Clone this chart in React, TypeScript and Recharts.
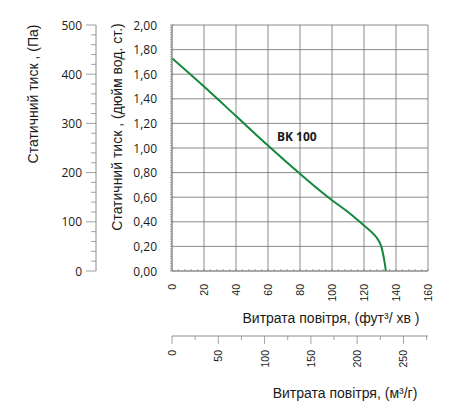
import React from "react";
import {
  CartesianGrid,
  Line,
  LineChart,
  ReferenceDot,
  XAxis,
  YAxis,
} from "recharts";

// fan curve (flow in cfm, pressure in in. w.g.)
const flowCfm = [0, 20, 40, 60, 80, 100, 110, 120, 126, 129, 131, 132.2, 133, 133.7];
const pressureIn = [1.73, 1.5, 1.26, 1.02, 0.79, 0.575, 0.48, 0.37, 0.3, 0.25, 0.19, 0.12, 0.06, 0];

const curveName = "BK 100";
const curveLabelAt = { x: 78, y: 1.09 };

const cfmMajor = [0, 20, 40, 60, 80, 100, 120, 140, 160];
const inchMajor = [0, 0.2, 0.4, 0.6, 0.8, 1, 1.2, 1.4, 1.6, 1.8, 2];
const paMajor = [0, 100, 200, 300, 400, 500];
const m3hMajor = [0, 50, 100, 150, 200, 250];

// minor tick marks
const cfmTicks = Array.from({ length: 41 }, (_, i) => i * 4);
const inchTicks = Array.from({ length: 101 }, (_, i) => Math.round(i * 2) / 100);
const paTicks = Array.from({ length: 26 }, (_, i) => i * 20);
const m3hTicks = Array.from({ length: 12 }, (_, i) => i * 25);

const data = flowCfm.map((x, i) => ({ x, p: pressureIn[i] }));

const AXIS = "#8c8c8c";
const GRID = "#6e6e6e";
const TXT = "#1a1a1a";
const SANS = "'Liberation Sans', Arial, sans-serif";
const TICKFONT = "'Open Sans', sans-serif";

const isMajor = (v: number, list: number[]) =>
  list.some((m) => Math.abs(m - v) < 1e-6);

function InchTick(props: any) {
  const { x, y, payload } = props;
  const major = isMajor(payload.value, inchMajor);
  return (
    <g>
      <line x1={x - 2} x2={major ? x + 2 : x} y1={y} y2={y} stroke={AXIS} strokeWidth={0.8} />
      {major ? (
        <text x={x - 15} y={y} textAnchor="end" dominantBaseline="central" fontSize={12} fontFamily={TICKFONT} fill={TXT}>
          {payload.value.toFixed(2).replace(".", ",")}
        </text>
      ) : null}
    </g>
  );
}

function PaTick(props: any) {
  const { x, y, payload } = props;
  const major = isMajor(payload.value, paMajor);
  return (
    <g>
      <line x1={x - (major ? 10 : 5)} x2={x} y1={y} y2={y} stroke={AXIS} strokeWidth={0.8} />
      {major ? (
        <text x={x - 14} y={y} textAnchor="end" dominantBaseline="central" fontSize={12} fontFamily={TICKFONT} fill={TXT}>
          {payload.value}
        </text>
      ) : null}
    </g>
  );
}

function CfmTick(props: any) {
  const { x, y, payload } = props;
  const major = isMajor(payload.value, cfmMajor);
  return (
    <g>
      <line x1={x} x2={x} y1={y - 2} y2={y} stroke={AXIS} strokeWidth={0.8} />
      {major ? (
        <text
          x={x}
          y={y + 13}
          transform={`rotate(-90, ${x}, ${y + 13})`}
          textAnchor="end"
          dominantBaseline="central"
          fontSize={10.5}
          fontFamily={SANS}
          fill={TXT}
        >
          {payload.value}
        </text>
      ) : null}
    </g>
  );
}

function M3hTick(props: any) {
  const { x, y, payload } = props;
  const major = isMajor(payload.value, m3hMajor);
  return (
    <g>
      <line x1={x} x2={x} y1={y} y2={y + (major ? 8 : 4)} stroke={AXIS} strokeWidth={0.8} />
      {major ? (
        <text
          x={x}
          y={y + 14}
          transform={`rotate(-90, ${x}, ${y + 14})`}
          textAnchor="end"
          dominantBaseline="central"
          fontSize={10.5}
          fontFamily={SANS}
          fill={TXT}
        >
          {payload.value}
        </text>
      ) : null}
    </g>
  );
}

const title = (text: string, dx: number, dy: number, rotate: boolean) => (p: any) => {
  const vb = p.viewBox || {};
  const tx = (vb.x || 0) + dx;
  const ty = (vb.y || 0) + dy;
  return (
    <text
      x={tx}
      y={ty}
      textAnchor="middle"
      dominantBaseline={rotate ? "central" : "auto"}
      transform={rotate ? `rotate(-90, ${tx}, ${ty})` : undefined}
      fontSize={14}
      fontFamily={SANS}
      fill={TXT}
    >
      {text}
    </text>
  );
};

export default function App() {
  return (
    <div style={{ position: "absolute", left: 0, top: 0, width: 450, height: 415, background: "#fff" }}>
      <LineChart
        width={450}
        height={415}
        data={data}
        margin={{ top: 25, right: 22, left: 0, bottom: 0 }}
      >
        <CartesianGrid
          xAxisId="cfm"
          yAxisId="in"
          stroke={GRID}
          strokeWidth={0.8}
          verticalValues={cfmMajor}
          horizontalValues={inchMajor}
        />
        <YAxis
          yAxisId="in"
          dataKey="p"
          type="number"
          domain={[0, 2]}
          allowDataOverflow
          ticks={inchTicks}
          interval={0}
          width={76}
          tickSize={0}
          tickMargin={0}
          tickLine={false}
          axisLine={{ stroke: AXIS }}
          tick={<InchTick />}
          label={{ content: title("Статичний тиск , (дюйм вод. ст.)", 21, 102, true) }}
        />
        <YAxis
          yAxisId="pa"
          dataKey="p"
          type="number"
          domain={[0, 500]}
          allowDataOverflow
          ticks={paTicks}
          interval={0}
          width={96}
          tickSize={0}
          tickMargin={0}
          tickLine={false}
          axisLine={{ stroke: AXIS }}
          tick={<PaTick />}
          label={{ content: title("Статичний тиск , (Па)", 33, 69, true) }}
        />
        <XAxis
          xAxisId="cfm"
          dataKey="x"
          type="number"
          domain={[0, 160]}
          allowDataOverflow
          ticks={cfmTicks}
          interval={0}
          height={65}
          tickSize={0}
          tickMargin={0}
          tickLine={false}
          axisLine={{ stroke: AXIS }}
          tick={<CfmTick />}
          label={{ content: title("Витрата повітря, (фут³/  хв )", 159, 52, false) }}
        />
        <XAxis
          xAxisId="m3h"
          dataKey="x"
          type="number"
          domain={[0, 276.5]}
          allowDataOverflow
          ticks={m3hTicks.filter((t) => t <= 276.5)}
          interval={0}
          height={79}
          tickSize={0}
          tickMargin={0}
          tickLine={false}
          axisLine={{ stroke: AXIS }}
          tick={<M3hTick />}
          label={{ content: title("Витрата повітря, (м³/г)", 173, 62, false) }}
        />
        <Line
          xAxisId="cfm"
          yAxisId="in"
          type="monotone"
          dataKey="p"
          stroke="#12883b"
          strokeWidth={2}
          dot={false}
          isAnimationActive={false}
        />
        <ReferenceDot
          xAxisId="cfm"
          yAxisId="in"
          x={curveLabelAt.x}
          y={curveLabelAt.y}
          r={0}
          stroke="none"
          label={{ value: curveName, position: "center", fontSize: 12, fontWeight: 700, fontFamily: TICKFONT, fill: TXT }}
        />
      </LineChart>
    </div>
  );
}
